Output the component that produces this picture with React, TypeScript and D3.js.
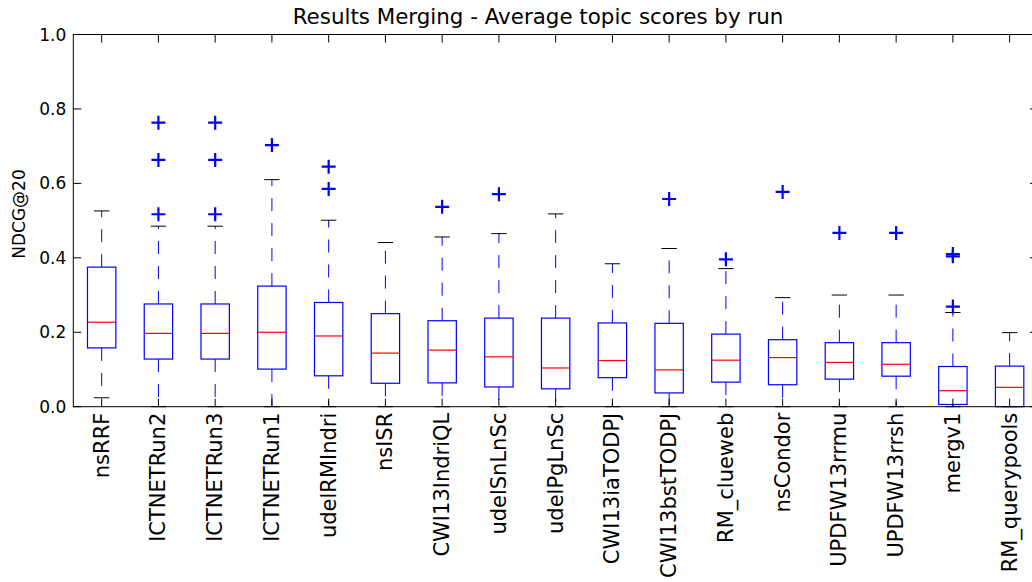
import * as d3 from 'd3'

// runs, in plotted order
const runs = [
  'nsRRF', 'ICTNETRun2', 'ICTNETRun3', 'ICTNETRun1', 'udelRMIndri', 'nsISR',
  'CWI13IndriQL', 'udelSnLnSc', 'udelPgLnSc', 'CWI13iaTODPJ', 'CWI13bstTODPJ',
  'RM_clueweb', 'nsCondor', 'UPDFW13rrmu', 'UPDFW13rrsh', 'mergv1', 'RM_querypools',
]

// box statistics
const whiskerLow = [0.024, 0, 0, 0, 0, 0, 0, 0, 0, 0, 0, 0, 0, 0, 0, 0, 0]
const q1 = [0.158, 0.128, 0.128, 0.101, 0.083, 0.063, 0.064, 0.053, 0.048, 0.078, 0.037, 0.066, 0.059, 0.074, 0.082, 0.006, 0]
const median = [0.227, 0.197, 0.197, 0.2, 0.19, 0.144, 0.152, 0.134, 0.104, 0.124, 0.099, 0.125, 0.132, 0.119, 0.114, 0.043, 0.052]
const q3 = [0.375, 0.276, 0.276, 0.324, 0.28, 0.25, 0.231, 0.238, 0.238, 0.225, 0.224, 0.195, 0.18, 0.172, 0.172, 0.108, 0.109]
const whiskerHigh = [0.526, 0.485, 0.485, 0.61, 0.501, 0.441, 0.456, 0.465, 0.518, 0.384, 0.425, 0.371, 0.293, 0.3, 0.3, 0.253, 0.199]
const fliers = [
  [],
  [0.763, 0.663, 0.517],
  [0.763, 0.663, 0.517],
  [0.703],
  [0.645, 0.585],
  [],
  [0.537],
  [0.571],
  [],
  [],
  [0.558],
  [0.396],
  [0.577],
  [0.467],
  [0.467],
  [0.41, 0.404, 0.269],
  [],
]

const yTicks = [0, 0.2, 0.4, 0.6, 0.8, 1.0]

const W = 1032
const H = 582
const left = 73.3
const right = 1038
const top = 34.5
const bottom = 406.7
const font = 'DejaVu Sans, sans-serif'

export default function App() {
  const x = d3.scaleLinear().domain([0.5, runs.length + 0.5]).range([left, right])
  const y = d3.scaleLinear().domain([0, 1]).range([bottom, top])
  const unit = x(2) - x(1)
  const boxHalf = unit * 0.25
  const capHalf = unit * 0.135
  const tickLen = 8

  return (
    <svg width={W} height={H} style={{ position: 'absolute', left: 0, top: 0, background: '#fff' }}>
      <rect x={0} y={0} width={W} height={H} fill="#fff" />

      {runs.map((name, i) => {
        const cx = x(i + 1)
        return (
          <g key={name}>
            {/* whiskers */}
            <line x1={cx} x2={cx} y1={y(q3[i])} y2={y(whiskerHigh[i])} stroke="#0000ff" strokeDasharray="13,12" />
            <line x1={cx} x2={cx} y1={y(q1[i])} y2={y(whiskerLow[i])} stroke="#0000ff" strokeDasharray="13,12" />
            {/* caps */}
            <line x1={cx - capHalf} x2={cx + capHalf} y1={y(whiskerHigh[i])} y2={y(whiskerHigh[i])} stroke="#000" />
            <line x1={cx - capHalf} x2={cx + capHalf} y1={y(whiskerLow[i])} y2={y(whiskerLow[i])} stroke="#000" />
            {/* box */}
            <rect x={cx - boxHalf} y={y(q3[i])} width={boxHalf * 2} height={y(q1[i]) - y(q3[i])}
              fill="none" stroke="#0000ff" strokeWidth={1.2} />
            <line x1={cx - boxHalf} x2={cx + boxHalf} y1={y(median[i])} y2={y(median[i])} stroke="#ff0000" strokeWidth={1.2} />
            {/* outliers */}
            {fliers[i].map((v, j) => (
              <path key={j} d={`M${cx - 7},${y(v)}H${cx + 7}M${cx},${y(v) - 7}V${y(v) + 7}`}
                stroke="#0000ff" strokeWidth={2.2} fill="none" />
            ))}
          </g>
        )
      })}

      {/* frame */}
      <rect x={left} y={top} width={right - left} height={bottom - top} fill="none" stroke="#000" strokeWidth={1} />

      {/* y ticks left and right */}
      {yTicks.map(t => (
        <g key={t}>
          <line x1={left} x2={left + tickLen} y1={y(t)} y2={y(t)} stroke="#000" />
          <line x1={right} x2={right - tickLen} y1={y(t)} y2={y(t)} stroke="#000" />
          <text x={left - 7} y={y(t)} textAnchor="end" dominantBaseline="central"
            fontFamily={font} fontSize={17} fill="#000">{t.toFixed(1)}</text>
        </g>
      ))}

      {/* x ticks top and bottom, labels */}
      {runs.map((name, i) => {
        const cx = x(i + 1)
        return (
          <g key={'t' + name}>
            <line x1={cx} x2={cx} y1={top} y2={top + tickLen} stroke="#000" />
            <line x1={cx} x2={cx} y1={bottom} y2={bottom - tickLen} stroke="#000" />
            <text transform={`translate(${cx},${bottom + 6}) rotate(-90)`} textAnchor="end"
              dominantBaseline="central" fontFamily={font} fontSize={21} fill="#000">{name}</text>
          </g>
        )
      })}

      <text x={538} y={24} textAnchor="middle" fontFamily={font} fontSize={21.4} fill="#000">
        Results Merging - Average topic scores by run
      </text>
      <text transform={`translate(25,214) rotate(-90)`} textAnchor="middle"
        fontFamily={font} fontSize={17} fill="#000">NDCG@20</text>
    </svg>
  )
}
